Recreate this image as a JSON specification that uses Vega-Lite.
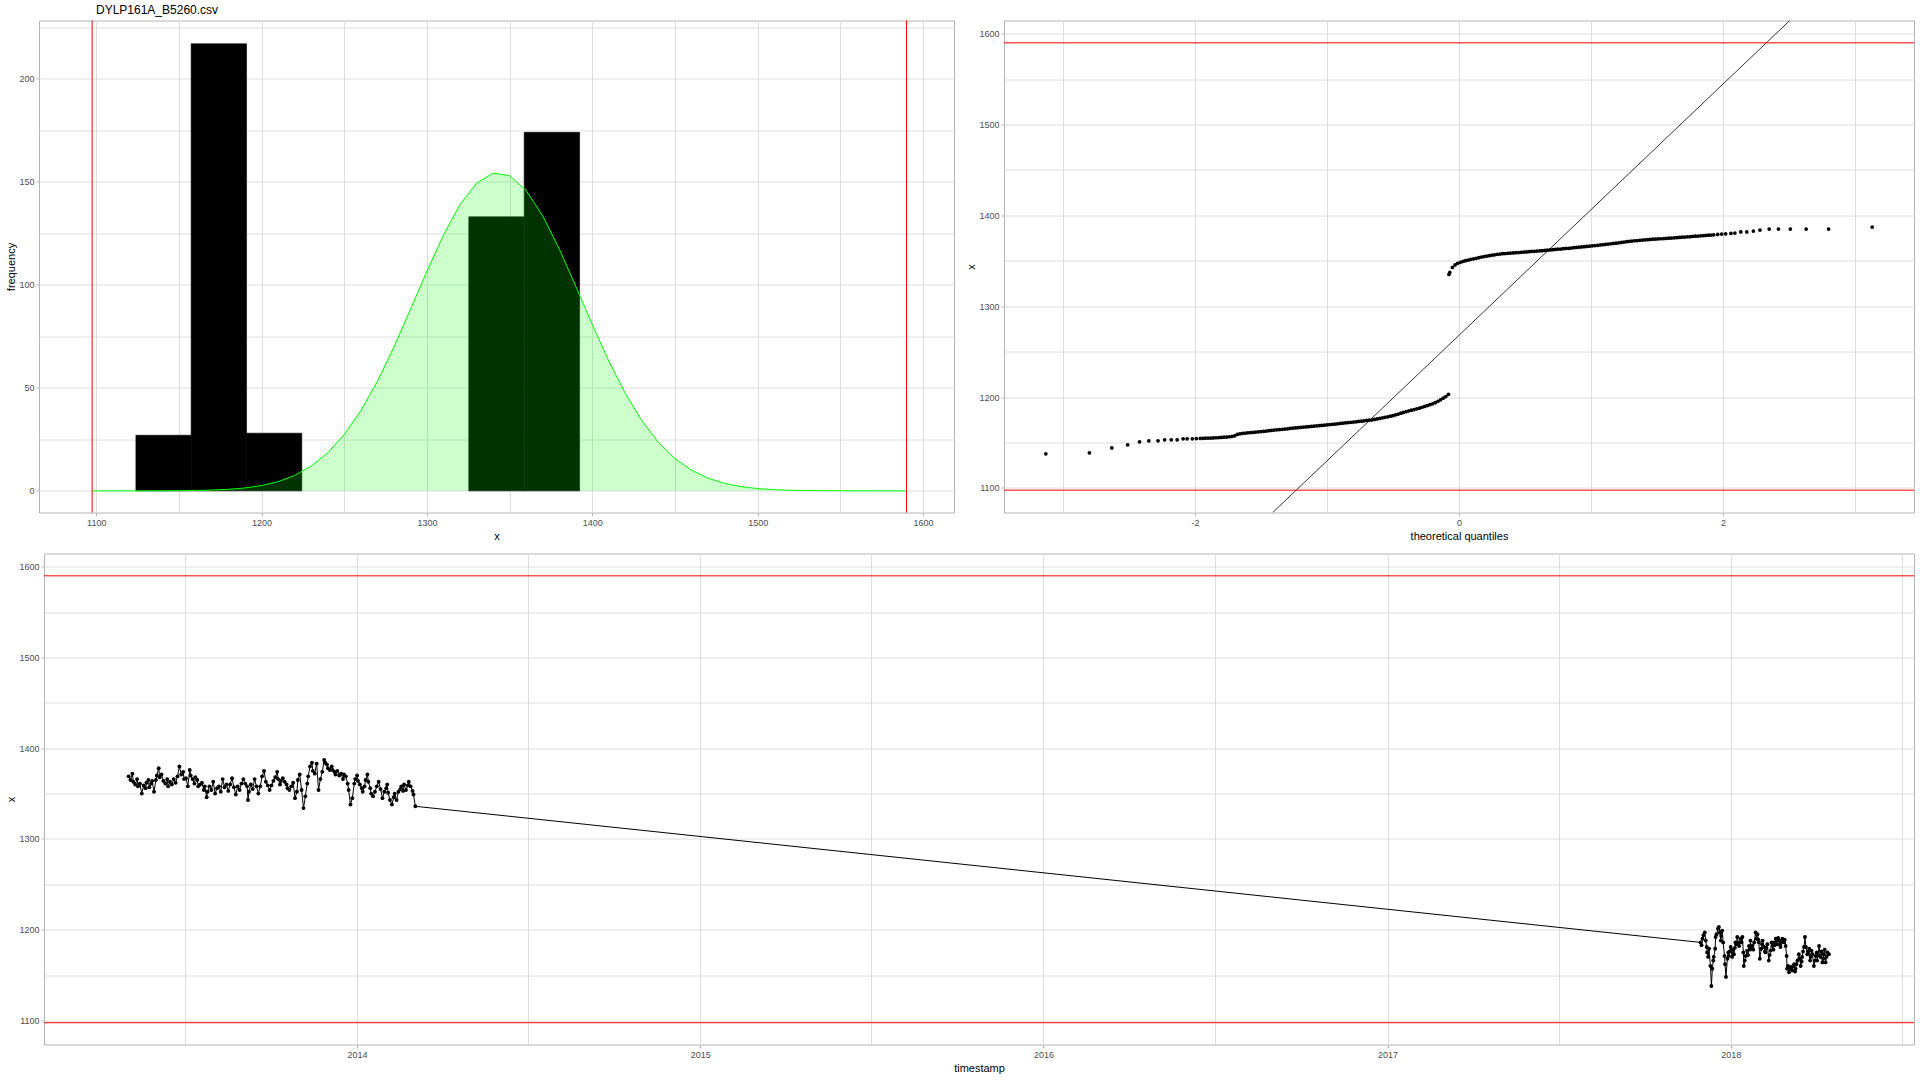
{
"$schema": "https://vega.github.io/schema/vega-lite/v6.json",
"background": "white",
"padding": {"left": 4, "top": 2.5, "right": 0, "bottom": 0},
"bounds": "full",
"spacing": 10,
"datasets": {
"hist": [{"b0":1124.0,"b1":1157.4,"n":27},{"b0":1157.4,"b1":1190.9,"n":217},{"b0":1190.9,"b1":1224.3,"n":28},{"b0":1325.3,"b1":1358.8,"n":133},{"b0":1358.8,"b1":1392.3,"n":174}],
"dens": [{"x":1097.5,"d":0},{"x":1100,"d":0},{"x":1110,"d":0},{"x":1120,"d":0.01},{"x":1130,"d":0.02},{"x":1140,"d":0.04},{"x":1150,"d":0.09},{"x":1160,"d":0.19},{"x":1170,"d":0.39},{"x":1180,"d":0.76},{"x":1190,"d":1.43},{"x":1200,"d":2.58},{"x":1210,"d":4.48},{"x":1220,"d":7.48},{"x":1230,"d":12.05},{"x":1240,"d":18.5},{"x":1250,"d":27.4},{"x":1260,"d":38.9},{"x":1270,"d":53.2},{"x":1280,"d":69.8},{"x":1290,"d":88.1},{"x":1300,"d":106.7},{"x":1310,"d":124.2},{"x":1320,"d":139.0},{"x":1330,"d":149.4},{"x":1340,"d":154.2},{"x":1350,"d":153.0},{"x":1360,"d":145.8},{"x":1370,"d":133.5},{"x":1380,"d":117.5},{"x":1390,"d":99.3},{"x":1400,"d":80.7},{"x":1410,"d":62.9},{"x":1420,"d":47.2},{"x":1430,"d":34.0},{"x":1440,"d":23.5},{"x":1450,"d":15.6},{"x":1460,"d":10.0},{"x":1470,"d":6.14},{"x":1480,"d":3.62},{"x":1490,"d":2.05},{"x":1500,"d":1.12},{"x":1510,"d":0.58},{"x":1520,"d":0.29},{"x":1530,"d":0.14},{"x":1540,"d":0.07},{"x":1550,"d":0.03},{"x":1560,"d":0.01},{"x":1570,"d":0},{"x":1580,"d":0},{"x":1590,"d":0}],
"limx": [{"lim":1097.5},{"lim":1590}],
"qqline": [{"q":-1.411,"v":1072.9},{"q":2.506,"v":1614.6}],
"qq": [{"q":-3.13,"v":1137.5},{"q":-2.8,"v":1138.6},{"q":-2.63,"v":1144},{"q":-2.51,"v":1147.4},{"q":-2.42,"v":1150.7},{"q":-2.35,"v":1151.8},{"q":-2.28,"v":1151.8},{"q":-2.23,"v":1152.9},{"q":-2.18,"v":1152.9},{"q":-2.135,"v":1152.9},{"q":-2.09,"v":1154},{"q":-2.06,"v":1154},{"q":-2.02,"v":1154},{"q":-1.99,"v":1154.3},
{"q":-1.96,"v":1154.5},{"q":-1.94,"v":1154.6},{"q":-1.92,"v":1154.7},{"q":-1.9,"v":1154.8},{"q":-1.88,"v":1154.9},{"q":-1.86,"v":1155.0},{"q":-1.84,"v":1155.2},{"q":-1.82,"v":1155.4},{"q":-1.8,"v":1155.5},{"q":-1.78,"v":1155.8},{"q":-1.76,"v":1156.0},{"q":-1.74,"v":1156.3},{"q":-1.72,"v":1156.6},{"q":-1.7,"v":1157.3},{"q":-1.68,"v":1158.8},{"q":-1.66,"v":1159.6},{"q":-1.64,"v":1160.0},{"q":-1.62,"v":1160.3},{"q":-1.6,"v":1160.6},{"q":-1.58,"v":1160.9},{"q":-1.56,"v":1161.1},{"q":-1.54,"v":1161.4},{"q":-1.52,"v":1161.7},{"q":-1.5,"v":1162.0},{"q":-1.48,"v":1162.3},{"q":-1.46,"v":1162.6},{"q":-1.44,"v":1163.0},{"q":-1.42,"v":1163.3},{"q":-1.4,"v":1163.6},{"q":-1.38,"v":1163.9},{"q":-1.36,"v":1164.2},{"q":-1.34,"v":1164.5},{"q":-1.32,"v":1164.8},{"q":-1.3,"v":1165.1},{"q":-1.28,"v":1165.4},{"q":-1.26,"v":1165.7},{"q":-1.24,"v":1166.0},{"q":-1.22,"v":1166.3},{"q":-1.2,"v":1166.6},{"q":-1.18,"v":1166.9},{"q":-1.16,"v":1167.1},{"q":-1.14,"v":1167.4},{"q":-1.12,"v":1167.7},{"q":-1.1,"v":1168.0},{"q":-1.08,"v":1168.3},{"q":-1.06,"v":1168.5},{"q":-1.04,"v":1168.8},{"q":-1.02,"v":1169.1},{"q":-1.0,"v":1169.4},{"q":-0.98,"v":1169.7},{"q":-0.96,"v":1170.0},{"q":-0.94,"v":1170.3},{"q":-0.92,"v":1170.6},{"q":-0.9,"v":1170.9},{"q":-0.88,"v":1171.3},{"q":-0.86,"v":1171.6},{"q":-0.84,"v":1171.9},{"q":-0.82,"v":1172.2},{"q":-0.8,"v":1172.5},{"q":-0.78,"v":1172.8},{"q":-0.76,"v":1173.2},{"q":-0.74,"v":1173.5},{"q":-0.72,"v":1173.8},{"q":-0.7,"v":1174.2},{"q":-0.68,"v":1174.5},{"q":-0.66,"v":1174.8},{"q":-0.64,"v":1175.3},{"q":-0.62,"v":1175.9},{"q":-0.6,"v":1176.5},{"q":-0.58,"v":1177.1},{"q":-0.56,"v":1177.7},{"q":-0.54,"v":1178.3},{"q":-0.52,"v":1178.9},{"q":-0.5,"v":1179.5},{"q":-0.48,"v":1180.4},{"q":-0.46,"v":1181.3},{"q":-0.44,"v":1182.2},{"q":-0.42,"v":1183.1},{"q":-0.4,"v":1184.0},{"q":-0.38,"v":1184.8},{"q":-0.36,"v":1185.5},{"q":-0.34,"v":1186.3},{"q":-0.32,"v":1187.0},{"q":-0.3,"v":1187.8},{"q":-0.28,"v":1188.7},{"q":-0.26,"v":1189.7},{"q":-0.24,"v":1190.6},{"q":-0.22,"v":1191.6},{"q":-0.2,"v":1192.5},{"q":-0.18,"v":1193.8},{"q":-0.16,"v":1195.3},{"q":-0.14,"v":1197.0},{"q":-0.12,"v":1198.7},{"q":-0.1,"v":1200.6},{"q":-0.08,"v":1203.0},
{"q":-0.076,"v":1335.0},{"q":-0.07,"v":1337.2},{"q":-0.05,"v":1342.7},{"q":-0.03,"v":1345.5},{"q":-0.01,"v":1347.2},{"q":0.01,"v":1348.3},{"q":0.03,"v":1349.3},{"q":0.05,"v":1350.1},{"q":0.07,"v":1350.9},{"q":0.09,"v":1351.6},{"q":0.11,"v":1352.2},{"q":0.13,"v":1352.8},{"q":0.15,"v":1353.5},{"q":0.17,"v":1354.1},{"q":0.19,"v":1354.7},{"q":0.21,"v":1355.2},{"q":0.23,"v":1355.7},{"q":0.25,"v":1356.2},{"q":0.27,"v":1356.6},{"q":0.29,"v":1357.1},{"q":0.31,"v":1357.5},{"q":0.33,"v":1357.8},{"q":0.35,"v":1358.0},{"q":0.37,"v":1358.3},{"q":0.39,"v":1358.5},{"q":0.41,"v":1358.7},{"q":0.43,"v":1358.9},{"q":0.45,"v":1359.1},{"q":0.47,"v":1359.4},{"q":0.49,"v":1359.6},{"q":0.51,"v":1359.8},{"q":0.53,"v":1360.1},{"q":0.55,"v":1360.3},{"q":0.57,"v":1360.5},{"q":0.59,"v":1360.8},{"q":0.61,"v":1361.0},{"q":0.63,"v":1361.2},{"q":0.65,"v":1361.5},{"q":0.67,"v":1361.7},{"q":0.69,"v":1362.0},{"q":0.71,"v":1362.3},{"q":0.73,"v":1362.5},{"q":0.75,"v":1362.8},{"q":0.77,"v":1363.0},{"q":0.79,"v":1363.3},{"q":0.81,"v":1363.6},{"q":0.83,"v":1363.8},{"q":0.85,"v":1364.1},{"q":0.87,"v":1364.4},{"q":0.89,"v":1364.7},{"q":0.91,"v":1365.0},{"q":0.93,"v":1365.3},{"q":0.95,"v":1365.6},{"q":0.97,"v":1365.9},{"q":0.99,"v":1366.1},{"q":1.01,"v":1366.5},{"q":1.03,"v":1366.8},{"q":1.05,"v":1367.1},{"q":1.07,"v":1367.5},{"q":1.09,"v":1367.8},{"q":1.11,"v":1368.1},{"q":1.13,"v":1368.5},{"q":1.15,"v":1368.8},{"q":1.17,"v":1369.1},{"q":1.19,"v":1369.4},{"q":1.21,"v":1369.8},{"q":1.23,"v":1370.3},{"q":1.25,"v":1370.7},{"q":1.27,"v":1371.1},{"q":1.29,"v":1371.5},{"q":1.31,"v":1371.8},{"q":1.33,"v":1372.1},{"q":1.35,"v":1372.3},{"q":1.37,"v":1372.6},{"q":1.39,"v":1372.8},{"q":1.41,"v":1373.1},{"q":1.43,"v":1373.3},{"q":1.45,"v":1373.5},{"q":1.47,"v":1373.8},{"q":1.49,"v":1374.0},{"q":1.51,"v":1374.2},{"q":1.53,"v":1374.3},{"q":1.55,"v":1374.5},{"q":1.57,"v":1374.7},{"q":1.59,"v":1374.9},{"q":1.61,"v":1375.1},{"q":1.63,"v":1375.3},{"q":1.65,"v":1375.5},{"q":1.67,"v":1375.7},{"q":1.69,"v":1376.0},{"q":1.71,"v":1376.2},{"q":1.73,"v":1376.4},{"q":1.75,"v":1376.6},{"q":1.77,"v":1376.8},{"q":1.79,"v":1377.1},{"q":1.81,"v":1377.3},{"q":1.83,"v":1377.5},{"q":1.85,"v":1377.7},{"q":1.87,"v":1377.9},{"q":1.89,"v":1378.2},{"q":1.91,"v":1378.4},{"q":1.93,"v":1378.6},{"q":1.96,"v":1379.0},{"q":1.99,"v":1379.4},{"q":2.02,"v":1379.7},{"q":2.06,"v":1380.2},
{"q":2.09,"v":1380.5},{"q":2.135,"v":1381.8},{"q":2.18,"v":1381.8},{"q":2.23,"v":1382.8},{"q":2.28,"v":1383.9},{"q":2.35,"v":1385},{"q":2.42,"v":1385},{"q":2.51,"v":1385},{"q":2.63,"v":1385},{"q":2.8,"v":1385},{"q":3.13,"v":1387.2}],
"ts": [{"t":"2013-05-03","x":1369},{"t":"2013-05-05","x":1365},{"t":"2013-05-07","x":1372},{"t":"2013-05-08","x":1363},{"t":"2013-05-10","x":1360},{"t":"2013-05-12","x":1366},{"t":"2013-05-13","x":1358},{"t":"2013-05-15","x":1361},{"t":"2013-05-17","x":1350},{"t":"2013-05-19","x":1359},{"t":"2013-05-21","x":1356},{"t":"2013-05-22","x":1362},{"t":"2013-05-24","x":1365},{"t":"2013-05-25","x":1357},{"t":"2013-05-27","x":1361},{"t":"2013-05-28","x":1364},{"t":"2013-05-30","x":1352},{"t":"2013-06-01","x":1365},{"t":"2013-06-02","x":1370},{"t":"2013-06-04","x":1378},{"t":"2013-06-05","x":1368},{"t":"2013-06-07","x":1371},{"t":"2013-06-09","x":1364},{"t":"2013-06-11","x":1361},{"t":"2013-06-13","x":1366},{"t":"2013-06-14","x":1358},{"t":"2013-06-16","x":1363},{"t":"2013-06-18","x":1360},{"t":"2013-06-20","x":1366},{"t":"2013-06-22","x":1362},{"t":"2013-06-24","x":1369},{"t":"2013-06-26","x":1380},{"t":"2013-06-28","x":1371},{"t":"2013-06-30","x":1374},{"t":"2013-07-01","x":1366},{"t":"2013-07-03","x":1367},{"t":"2013-07-05","x":1358},{"t":"2013-07-07","x":1376},{"t":"2013-07-08","x":1370},{"t":"2013-07-10","x":1366},{"t":"2013-07-12","x":1361},{"t":"2013-07-13","x":1368},{"t":"2013-07-15","x":1365},{"t":"2013-07-16","x":1358},{"t":"2013-07-18","x":1360},{"t":"2013-07-20","x":1362},{"t":"2013-07-22","x":1354},{"t":"2013-07-23","x":1358},{"t":"2013-07-25","x":1346},{"t":"2013-07-26","x":1352},{"t":"2013-07-28","x":1358},{"t":"2013-07-30","x":1354},{"t":"2013-08-01","x":1363},{"t":"2013-08-03","x":1350},{"t":"2013-08-05","x":1356},{"t":"2013-08-07","x":1358},{"t":"2013-08-09","x":1352},{"t":"2013-08-11","x":1366},{"t":"2013-08-13","x":1357},{"t":"2013-08-15","x":1360},{"t":"2013-08-17","x":1353},{"t":"2013-08-19","x":1360},{"t":"2013-08-21","x":1367},{"t":"2013-08-23","x":1357},{"t":"2013-08-25","x":1349},{"t":"2013-08-27","x":1358},{"t":"2013-08-29","x":1354},{"t":"2013-08-31","x":1361},{"t":"2013-09-02","x":1366},{"t":"2013-09-04","x":1361},{"t":"2013-09-06","x":1358},{"t":"2013-09-07","x":1343},{"t":"2013-09-08","x":1352},{"t":"2013-09-10","x":1360},{"t":"2013-09-12","x":1355},{"t":"2013-09-14","x":1366},{"t":"2013-09-16","x":1358},{"t":"2013-09-18","x":1350},{"t":"2013-09-20","x":1358},{"t":"2013-09-22","x":1369},{"t":"2013-09-24","x":1375},{"t":"2013-09-26","x":1363},{"t":"2013-09-28","x":1359},{"t":"2013-09-30","x":1354},{"t":"2013-10-02","x":1359},{"t":"2013-10-04","x":1364},{"t":"2013-10-06","x":1368},{"t":"2013-10-08","x":1374},{"t":"2013-10-09","x":1366},{"t":"2013-10-11","x":1360},{"t":"2013-10-12","x":1364},{"t":"2013-10-14","x":1367},{"t":"2013-10-16","x":1363},{"t":"2013-10-18","x":1360},{"t":"2013-10-19","x":1356},{"t":"2013-10-21","x":1354},{"t":"2013-10-23","x":1358},{"t":"2013-10-25","x":1362},{"t":"2013-10-27","x":1345},{"t":"2013-10-29","x":1352},{"t":"2013-10-30","x":1365},{"t":"2013-11-01","x":1371},{"t":"2013-11-03","x":1354},{"t":"2013-11-05","x":1334},{"t":"2013-11-07","x":1347},{"t":"2013-11-09","x":1361},{"t":"2013-11-10","x":1369},{"t":"2013-11-12","x":1380},{"t":"2013-11-14","x":1384},{"t":"2013-11-15","x":1375},{"t":"2013-11-17","x":1372},{"t":"2013-11-19","x":1383},{"t":"2013-11-21","x":1354},{"t":"2013-11-23","x":1366},{"t":"2013-11-25","x":1374},{"t":"2013-11-27","x":1387},{"t":"2013-11-28","x":1384},{"t":"2013-11-30","x":1382},{"t":"2013-12-01","x":1378},{"t":"2013-12-03","x":1376},{"t":"2013-12-05","x":1380},{"t":"2013-12-06","x":1376},{"t":"2013-12-08","x":1374},{"t":"2013-12-09","x":1371},{"t":"2013-12-11","x":1375},{"t":"2013-12-13","x":1370},{"t":"2013-12-15","x":1372},{"t":"2013-12-17","x":1366},{"t":"2013-12-18","x":1371},{"t":"2013-12-20","x":1369},{"t":"2013-12-22","x":1361},{"t":"2013-12-23","x":1354},{"t":"2013-12-25","x":1338},{"t":"2013-12-27","x":1345},{"t":"2013-12-29","x":1361},{"t":"2013-12-30","x":1366},{"t":"2014-01-01","x":1370},{"t":"2014-01-02","x":1364},{"t":"2014-01-04","x":1360},{"t":"2014-01-06","x":1356},{"t":"2014-01-07","x":1352},{"t":"2014-01-09","x":1358},{"t":"2014-01-10","x":1365},{"t":"2014-01-12","x":1371},{"t":"2014-01-13","x":1363},{"t":"2014-01-15","x":1356},{"t":"2014-01-16","x":1350},{"t":"2014-01-18","x":1347},{"t":"2014-01-20","x":1352},{"t":"2014-01-22","x":1358},{"t":"2014-01-24","x":1363},{"t":"2014-01-26","x":1355},{"t":"2014-01-28","x":1345},{"t":"2014-01-30","x":1352},{"t":"2014-02-01","x":1356},{"t":"2014-02-02","x":1360},{"t":"2014-02-03","x":1351},{"t":"2014-02-05","x":1343},{"t":"2014-02-07","x":1338},{"t":"2014-02-09","x":1346},{"t":"2014-02-10","x":1350},{"t":"2014-02-12","x":1343},{"t":"2014-02-14","x":1352},{"t":"2014-02-16","x":1355},{"t":"2014-02-17","x":1358},{"t":"2014-02-19","x":1353},{"t":"2014-02-20","x":1360},{"t":"2014-02-22","x":1354},{"t":"2014-02-24","x":1359},{"t":"2014-02-25","x":1363},{"t":"2014-02-27","x":1358},{"t":"2014-03-01","x":1353},{"t":"2014-03-02","x":1349},{"t":"2014-03-04","x":1336},
{"t":"2017-11-30","x":1186},{"t":"2017-12-01","x":1183},{"t":"2017-12-02","x":1190},{"t":"2017-12-03","x":1194},{"t":"2017-12-04T12:00Z","x":1197},{"t":"2017-12-05T12:00Z","x":1188},{"t":"2017-12-06T12:00Z","x":1181},{"t":"2017-12-07","x":1175},{"t":"2017-12-08","x":1170},{"t":"2017-12-09","x":1179},{"t":"2017-12-10T12:00Z","x":1160},{"t":"2017-12-11T12:00Z","x":1138},{"t":"2017-12-12T12:00Z","x":1157},{"t":"2017-12-13T12:00Z","x":1166},{"t":"2017-12-14","x":1170},{"t":"2017-12-15T12:00Z","x":1179},{"t":"2017-12-16","x":1192},{"t":"2017-12-17","x":1195},{"t":"2017-12-18T12:00Z","x":1201},{"t":"2017-12-19T12:00Z","x":1203},{"t":"2017-12-20T12:00Z","x":1197},{"t":"2017-12-21T12:00Z","x":1188},{"t":"2017-12-22","x":1193},{"t":"2017-12-23","x":1199},{"t":"2017-12-24","x":1186},{"t":"2017-12-25T12:00Z","x":1171},{"t":"2017-12-26","x":1162},{"t":"2017-12-27","x":1148},{"t":"2017-12-28T12:00Z","x":1168},{"t":"2017-12-29T12:00Z","x":1175},{"t":"2017-12-30","x":1171},{"t":"2017-12-31","x":1176},{"t":"2018-01-01","x":1181},{"t":"2018-01-02T12:00Z","x":1170},{"t":"2018-01-03T12:00Z","x":1178},{"t":"2018-01-04T12:00Z","x":1173},{"t":"2018-01-05T12:00Z","x":1180},{"t":"2018-01-06","x":1186},{"t":"2018-01-07","x":1184},{"t":"2018-01-08","x":1192},{"t":"2018-01-09","x":1186},{"t":"2018-01-10","x":1182},{"t":"2018-01-11T12:00Z","x":1190},{"t":"2018-01-12T12:00Z","x":1186},{"t":"2018-01-13T12:00Z","x":1192},{"t":"2018-01-14T12:00Z","x":1175},{"t":"2018-01-15","x":1160},{"t":"2018-01-16","x":1166},{"t":"2018-01-17","x":1171},{"t":"2018-01-18T12:00Z","x":1177},{"t":"2018-01-19T12:00Z","x":1172},{"t":"2018-01-20T12:00Z","x":1182},{"t":"2018-01-21T12:00Z","x":1178},{"t":"2018-01-22","x":1188},{"t":"2018-01-23","x":1180},{"t":"2018-01-24","x":1182},{"t":"2018-01-25","x":1178},{"t":"2018-01-26","x":1186},{"t":"2018-01-27T12:00Z","x":1197},{"t":"2018-01-28T12:00Z","x":1190},{"t":"2018-01-29T12:00Z","x":1195},{"t":"2018-01-30T12:00Z","x":1189},{"t":"2018-01-31","x":1186},{"t":"2018-02-01","x":1168},{"t":"2018-02-02T12:00Z","x":1179},{"t":"2018-02-03T12:00Z","x":1184},{"t":"2018-02-04","x":1188},{"t":"2018-02-05T12:00Z","x":1181},{"t":"2018-02-06T12:00Z","x":1176},{"t":"2018-02-07","x":1175},{"t":"2018-02-08","x":1180},{"t":"2018-02-09","x":1184},{"t":"2018-02-10T12:00Z","x":1166},{"t":"2018-02-11T12:00Z","x":1172},{"t":"2018-02-12T12:00Z","x":1177},{"t":"2018-02-13T12:00Z","x":1186},{"t":"2018-02-14T12:00Z","x":1182},{"t":"2018-02-15T12:00Z","x":1178},{"t":"2018-02-16","x":1186},{"t":"2018-02-17","x":1183},{"t":"2018-02-18","x":1190},{"t":"2018-02-19T12:00Z","x":1184},{"t":"2018-02-20T12:00Z","x":1191},{"t":"2018-02-21T12:00Z","x":1188},{"t":"2018-02-22T12:00Z","x":1184},{"t":"2018-02-23","x":1181},{"t":"2018-02-24","x":1187},{"t":"2018-02-25","x":1190},{"t":"2018-02-26T12:00Z","x":1186},{"t":"2018-02-27T12:00Z","x":1189},{"t":"2018-02-28T12:00Z","x":1182},{"t":"2018-03-01T12:00Z","x":1171},{"t":"2018-03-02","x":1157},{"t":"2018-03-03","x":1160},{"t":"2018-03-04","x":1153},{"t":"2018-03-05","x":1157},{"t":"2018-03-06","x":1159},{"t":"2018-03-07T12:00Z","x":1155},{"t":"2018-03-08T12:00Z","x":1160},{"t":"2018-03-09T12:00Z","x":1162},{"t":"2018-03-10T12:00Z","x":1154},{"t":"2018-03-11","x":1157},{"t":"2018-03-12","x":1162},{"t":"2018-03-13","x":1166},{"t":"2018-03-14T12:00Z","x":1173},{"t":"2018-03-15T12:00Z","x":1168},{"t":"2018-03-16T12:00Z","x":1160},{"t":"2018-03-17T12:00Z","x":1165},{"t":"2018-03-18","x":1170},{"t":"2018-03-19","x":1176},{"t":"2018-03-20","x":1181},{"t":"2018-03-21","x":1192},{"t":"2018-03-22","x":1181},{"t":"2018-03-23T12:00Z","x":1173},{"t":"2018-03-24T12:00Z","x":1176},{"t":"2018-03-25T12:00Z","x":1179},{"t":"2018-03-26T12:00Z","x":1166},{"t":"2018-03-27","x":1170},{"t":"2018-03-28","x":1177},{"t":"2018-03-29","x":1173},{"t":"2018-03-30T12:00Z","x":1160},{"t":"2018-03-31T12:00Z","x":1166},{"t":"2018-04-01T12:00Z","x":1171},{"t":"2018-04-02T12:00Z","x":1175},{"t":"2018-04-03","x":1166},{"t":"2018-04-04","x":1172},{"t":"2018-04-05","x":1182},{"t":"2018-04-06T12:00Z","x":1170},{"t":"2018-04-07T12:00Z","x":1176},{"t":"2018-04-08T12:00Z","x":1164},{"t":"2018-04-09T12:00Z","x":1168},{"t":"2018-04-10","x":1173},{"t":"2018-04-11","x":1178},{"t":"2018-04-12","x":1164},{"t":"2018-04-13","x":1170},{"t":"2018-04-14","x":1175},{"t":"2018-04-15T12:00Z","x":1173}]
},
"vconcat": [
{
"hconcat": [
{
"width": 915, "height": 492,
"title": {"text": "DYLP161A_B5260.csv", "anchor": "start", "frame": "group", "dx": 57, "fontSize": 12, "fontWeight": "normal", "color": "#000000", "baseline": "alphabetic", "offset": -5.5},
"layer": [
{"data": {"name": "hist"}, "mark": {"type": "rect", "color": "#000000", "stroke": "#000000", "strokeWidth": 0.6},
 "encoding": {
  "x": {"field": "b0", "type": "quantitative", "title": "x", "scale": {"domain": [1065.4, 1618.7], "nice": false, "zero": false},
        "axis": {"values": [1100,1150,1200,1250,1300,1350,1400,1450,1500,1550,1600], "labelExpr": "datum.value % 100 == 0 ? '' + datum.value : ''", "tickOpacity": {"condition": {"test": "datum.value % 100 != 0", "value": 0}, "value": 1}, "titleX": 457.5, "titleY": 27}},
  "x2": {"field": "b1"},
  "y": {"field": "n", "type": "quantitative", "title": "frequency", "scale": {"domain": [-10.5, 228.3], "nice": false, "zero": false},
        "axis": {"values": [0,25,50,75,100,125,150,175,200,225], "labelExpr": "datum.value % 50 == 0 ? '' + datum.value : ''", "tickOpacity": {"condition": {"test": "datum.value % 50 != 0", "value": 0}, "value": 1}, "titleX": -25, "titleY": 246}},
  "y2": {"datum": 0}}},
{"data": {"name": "dens"}, "mark": {"type": "area", "color": "#00FF00", "fillOpacity": 0.2},
 "encoding": {"x": {"field": "x", "type": "quantitative", "title": "x"}, "y": {"field": "d", "type": "quantitative", "title": "frequency"}, "y2": {"datum": 0}}},
{"data": {"name": "dens"}, "mark": {"type": "line", "color": "#00FF00", "strokeWidth": 1},
 "encoding": {"x": {"field": "x", "type": "quantitative", "title": "x"}, "y": {"field": "d", "type": "quantitative", "title": "frequency"}}},
{"data": {"name": "limx"}, "mark": {"type": "rule", "color": "#FF0000", "strokeWidth": 1},
 "encoding": {"x": {"field": "lim", "type": "quantitative", "title": "x"}}}
]
},
{
"width": 910, "height": 492,
"layer": [
{"data": {"name": "qq"}, "mark": {"type": "circle", "color": "#000000", "opacity": 1, "size": 14},
 "encoding": {
  "x": {"field": "q", "type": "quantitative", "title": "theoretical quantiles", "scale": {"domain": [-3.447, 3.447], "nice": false, "zero": false},
        "axis": {"values": [-3,-2,-1,0,1,2,3], "labelExpr": "datum.value % 2 == 0 ? '' + datum.value : ''", "tickOpacity": {"condition": {"test": "datum.value % 2 != 0", "value": 0}, "value": 1}, "titleX": 455, "titleY": 27}},
  "y": {"field": "v", "type": "quantitative", "title": "x", "scale": {"domain": [1072.9, 1614.6], "nice": false, "zero": false},
        "axis": {"values": [1100,1150,1200,1250,1300,1350,1400,1450,1500,1550,1600], "labelExpr": "datum.value % 100 == 0 ? '' + datum.value : ''", "tickOpacity": {"condition": {"test": "datum.value % 100 != 0", "value": 0}, "value": 1}, "titleX": -29.3, "titleY": 246}}}},
{"data": {"name": "qqline"}, "mark": {"type": "line", "color": "#000000", "strokeWidth": 0.8, "clip": true},
 "encoding": {"x": {"field": "q", "type": "quantitative", "title": "theoretical quantiles"}, "y": {"field": "v", "type": "quantitative", "title": "x"}}},
{"data": {"name": "limx"}, "mark": {"type": "rule", "color": "#FF0000", "strokeWidth": 1},
 "encoding": {"y": {"field": "lim", "type": "quantitative", "title": "x"}}}
]
}
],
"spacing": 50,
"bounds": "flush"
},
{
"hconcat": [
{
"width": 1, "height": 491,
"view": {"stroke": null},
"data": {"values": []},
"mark": {"type": "point", "opacity": 0},
"encoding": {}
},
{
"width": 1870, "height": 491,
"layer": [
{"data": {"name": "ts"}, "mark": {"type": "line", "color": "#000000", "strokeWidth": 1},
 "encoding": {
  "x": {"field": "t", "type": "temporal", "title": "timestamp", "scale": {"type": "utc", "domain": [{"year": 2013, "month": 2, "date": 2, "utc": true}, {"year": 2018, "month": 7, "date": 15, "utc": true}]},
        "axis": {"values": [{"year": 2013, "month": 7, "date": 2, "utc": true}, {"year": 2014, "month": 1, "date": 1, "utc": true}, {"year": 2014, "month": 7, "date": 2, "utc": true}, {"year": 2015, "month": 1, "date": 1, "utc": true}, {"year": 2015, "month": 7, "date": 2, "utc": true}, {"year": 2016, "month": 1, "date": 1, "utc": true}, {"year": 2016, "month": 7, "date": 2, "utc": true}, {"year": 2017, "month": 1, "date": 1, "utc": true}, {"year": 2017, "month": 7, "date": 2, "utc": true}, {"year": 2018, "month": 1, "date": 1, "utc": true}, {"year": 2018, "month": 7, "date": 2, "utc": true}],
                 "labelExpr": "utcmonth(datum.value) == 0 ? utcFormat(datum.value, '%Y') : ''", "tickOpacity": {"condition": {"test": "utcmonth(datum.value) != 0", "value": 0}, "value": 1}, "titleX": 935, "titleY": 27}},
  "y": {"field": "x", "type": "quantitative", "title": "x", "scale": {"domain": [1073.5, 1614.6], "nice": false, "zero": false},
        "axis": {"values": [1100,1150,1200,1250,1300,1350,1400,1450,1500,1550,1600], "labelExpr": "datum.value % 100 == 0 ? '' + datum.value : ''", "tickOpacity": {"condition": {"test": "datum.value % 100 != 0", "value": 0}, "value": 1}, "titleX": -29.3, "titleY": 245.5}}}},
{"data": {"name": "ts"}, "mark": {"type": "circle", "color": "#000000", "opacity": 1, "size": 15},
 "encoding": {"x": {"field": "t", "type": "temporal", "title": "timestamp"}, "y": {"field": "x", "type": "quantitative", "title": "x"}}},
{"data": {"name": "limx"}, "mark": {"type": "rule", "color": "#FF0000", "strokeWidth": 1},
 "encoding": {"y": {"field": "lim", "type": "quantitative", "title": "x"}}}
]
}
],
"spacing": 4,
"bounds": "flush"
}
],
"config": {
 "font": "Liberation Sans",
 "view": {"stroke": "#B3B3B3", "strokeWidth": 1},
 "axis": {"domain": false, "grid": true, "gridColor": "#DEDEDE", "gridWidth": 1, "tickColor": "#B3B3B3", "tickSize": 3, "tickWidth": 1, "labelColor": "#4D4D4D", "labelFontSize": 9, "labelPadding": 2, "labelOverlap": false, "labelFlush": false, "titleFontSize": 11, "titleFontWeight": "normal", "titleColor": "#000000", "titleBaseline": "alphabetic"},
 "axisX": {"labelPadding": 3}
}
}
